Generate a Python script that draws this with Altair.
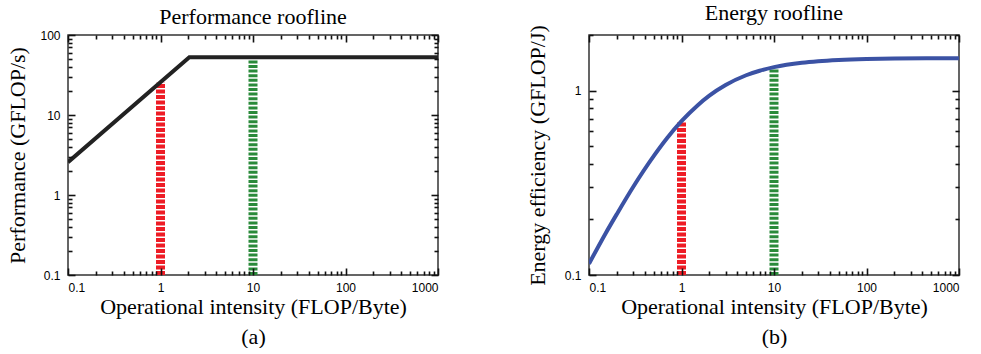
import altair as alt
import pandas as pd

# ---------------- data ----------------
# (a) Performance roofline
perf_x = [0.1, 2.05, 1000]
perf_y = [2.57, 52.6, 52.6]

# (b) Energy roofline
energy_x = [0.1, 0.15, 0.2, 0.3, 0.5, 0.7, 1, 1.5, 2, 3, 5, 7, 10, 20, 30, 50, 100, 200, 500, 1000]
energy_y = [0.115, 0.167, 0.214, 0.300, 0.441, 0.553, 0.682, 0.833, 0.938, 1.071,
            1.210, 1.280, 1.339, 1.415, 1.442, 1.464, 1.482, 1.491, 1.496, 1.498]

# vertical markers (operational intensity 1 and 10)
marker_x = [1, 10]
marker_bottom = [0.1, 0.1]
perf_marker_top = [25.7, 52.6]
energy_marker_top = [0.68, 1.33]

# axis ticks
x_major = [0.1, 1, 10, 100, 1000]
x_minor = [m * 10.0 ** e for e in (-1, 0, 1, 2) for m in range(2, 10)]
perf_y_major = [0.1, 1, 10, 100]
perf_y_minor = [m * 10.0 ** e for e in (-1, 0, 1) for m in range(2, 10)]
energy_y_major = [0.1, 1]
energy_y_minor = [m * 10.0 ** e for e in (-1,) for m in range(2, 10)] + [2]

RED = "#ee1c25"
GREEN = "#2a8a3a"
BLUE = "#3b52a4"
BLACK = "#222222"
TICK = "#111111"
MAJ, MIN = 7, 4
W, H = 370, 240


def make_panel(title, y_title, sub, lx, ly, line_color, interp, y_domain, y_major, y_minor,
               rule_top, ytp):
    line_df = pd.DataFrame({"x": lx, "y": ly})
    rule_df = pd.DataFrame({"x": marker_x, "y0": marker_bottom, "top": rule_top})
    xs = alt.Scale(type="log", domain=[0.1, 1000], nice=False)
    ys = alt.Scale(type="log", domain=y_domain, nice=False)

    def xaxis(orient, vals, size, labels=False, ttl=None):
        kw = dict(orient=orient, values=vals, tickSize=size, offset=-size, domain=False,
                  grid=False, labels=labels, title=ttl, tickColor=TICK, tickWidth=1.6,
                  ticks=True, zindex=1)
        if labels:
            kw.update(format="~g", labelPadding=7, titlePadding=3, titleLineHeight=30)
        return alt.Axis(**kw)

    def yaxis(orient, vals, size, labels=False, ttl=None):
        kw = dict(orient=orient, values=vals, tickSize=size, offset=-size, domain=False,
                  grid=False, labels=labels, title=ttl, tickColor=TICK, tickWidth=1.6,
                  ticks=True, zindex=1)
        if labels:
            kw.update(format="~g", labelPadding=8, titlePadding=ytp)
        return alt.Axis(**kw)

    red = alt.Chart(rule_df.iloc[[0]]).mark_rule(
        strokeWidth=9, strokeDash=[4, 1.5], color=RED, clip=True
    ).encode(
        x=alt.X("x:Q", scale=xs, axis=xaxis("bottom", x_minor, MIN)),
        y=alt.Y("y0:Q", scale=ys, axis=yaxis("left", y_minor, MIN)),
        y2="top:Q",
    )
    green = alt.Chart(rule_df.iloc[[1]]).mark_rule(
        strokeWidth=9, strokeDash=[3, 1.6], color=GREEN, clip=True
    ).encode(
        x=alt.X("x:Q", scale=xs, axis=xaxis("top", x_major, MAJ)),
        y=alt.Y("y0:Q", scale=ys, axis=yaxis("right", y_major, MAJ)),
        y2="top:Q",
    )
    line = alt.Chart(line_df).mark_line(
        strokeWidth=4, color=line_color, clip=True, interpolate=interp
    ).encode(
        x=alt.X("x:Q", scale=xs,
                axis=xaxis("bottom", x_major, MAJ, labels=True,
                           ttl=["Operational intensity (FLOP/Byte)", sub])),
        y=alt.Y("y:Q", scale=ys, axis=yaxis("left", y_major, MAJ, labels=True, ttl=y_title)),
    )
    ghost = alt.Chart(line_df).mark_line(opacity=0, clip=True).encode(
        x=alt.X("x:Q", scale=xs, axis=xaxis("top", x_minor, MIN)),
        y=alt.Y("y:Q", scale=ys, axis=yaxis("right", y_minor, MIN)),
    )
    return alt.layer(red, green, line, ghost).resolve_axis(
        x="independent", y="independent"
    ).properties(
        width=W, height=H,
        title=alt.TitleParams(title, anchor="middle", fontSize=22, font="Liberation Serif",
                              fontWeight="normal", color="black", offset=0),
    )


left = make_panel("Performance roofline", "Performance (GFLOP/s)", "(a)",
                  perf_x, perf_y, BLACK, "linear", [0.1, 100], perf_y_major, perf_y_minor,
                  perf_marker_top, 10)
right = make_panel("Energy roofline", "Energy efficiency (GFLOP/J)", "(b)",
                   energy_x, energy_y, BLUE, "monotone", [0.1, 2], energy_y_major, energy_y_minor,
                   energy_marker_top, 15)

chart = alt.hconcat(left, right, spacing=85).properties(
    padding={"left": 6, "top": 0, "right": 5, "bottom": 0},
    background="white",
).configure_view(
    stroke="#333333", strokeWidth=1.5
).configure_axis(
    labelFont="Liberation Sans", labelFontSize=12, labelColor="black",
    titleFont="Liberation Serif", titleFontSize=22, titleFontWeight="normal", titleColor="black",
)

chart.save("out.html", embed_options={"renderer": "svg", "actions": False})
